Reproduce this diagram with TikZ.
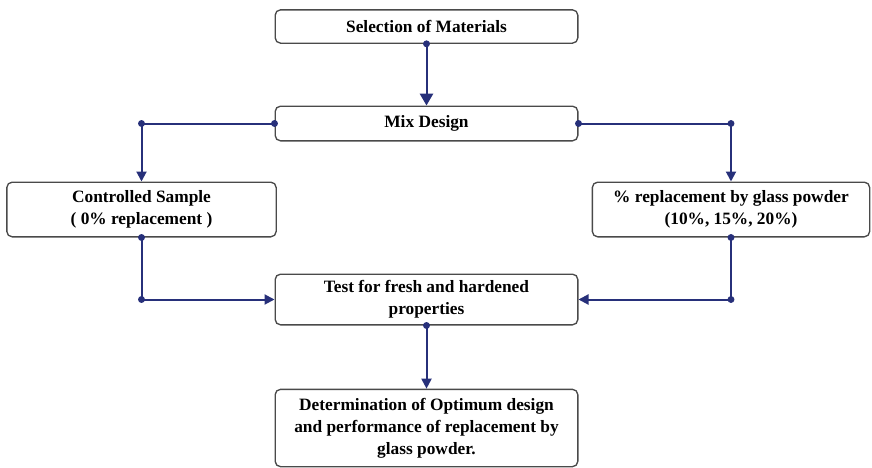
\documentclass[tikz,border=0pt]{standalone}
\usepackage{fontspec}
\setmainfont{Liberation Serif}
\usetikzlibrary{arrows.meta, positioning}
\definecolor{cflow}{HTML}{27307A}
\definecolor{cedge}{HTML}{4A4A4A}

\begin{document}
\begin{tikzpicture}[x=0.75pt, y=-0.75pt,
  box/.style={draw=cedge, line width=1pt, rounded corners=4pt, fill=white,
              font=\bfseries\fontsize{13}{16.5}\selectfont, align=center, inner sep=0pt},
  link/.style={cflow, line width=1.5pt, -{Triangle[length=7.5pt,width=7.5pt]}},
  knee/.style={cflow, fill, radius=2.6pt}
]
\useasboundingbox (0,0) rectangle (872,468);

\node[box, minimum width=227pt, minimum height=25pt] (sel)   at (426.5,26.5) {Selection of Materials};
\node[box, minimum width=227pt, minimum height=26pt] (mix)   at (426.5,123.5) {Mix Design};
\node[box, minimum width=202pt, minimum height=41pt] (ctrl)  at (141.5,209.5) {Controlled Sample\\( 0\% replacement )};
\node[box, minimum width=208pt, minimum height=41pt] (repl)  at (731,209.5) {\% replacement by glass powder\\(10\%, 15\%, 20\%)};
\node[box, minimum width=227pt, minimum height=38pt] (test)  at (426.5,299.5) {Test for fresh and hardened\\properties};
\node[box, minimum width=227pt, minimum height=58pt] (final) at (426.5,428) {Determination of Optimum design\\and performance of replacement by\\glass powder.};

% knees of the branch lines
\coordinate (lt) at (ctrl.north |- mix.west);
\coordinate (rt) at (repl.north |- mix.east);
\coordinate (lb) at (ctrl.south |- test.west);
\coordinate (rb) at (repl.south |- test.east);

\draw[link, -{Triangle[length=9pt,width=10pt]}] (sel.south) -- (mix.north);
\draw[link] (mix.west) -- (lt) -- (ctrl.north);
\draw[link] (mix.east) -- (rt) -- (repl.north);
\draw[link] (ctrl.south) -- (lb) -- (test.west);
\draw[link] (repl.south) -- (rb) -- (test.east);
\draw[link] (test.south) -- (final.north);

% dots where the lines leave a box or turn
\foreach \k in {sel.south, mix.west, mix.east, ctrl.south, repl.south, test.south, lt, rt, lb, rb}
  \fill[knee] (\k) circle;
\end{tikzpicture}
\end{document}
